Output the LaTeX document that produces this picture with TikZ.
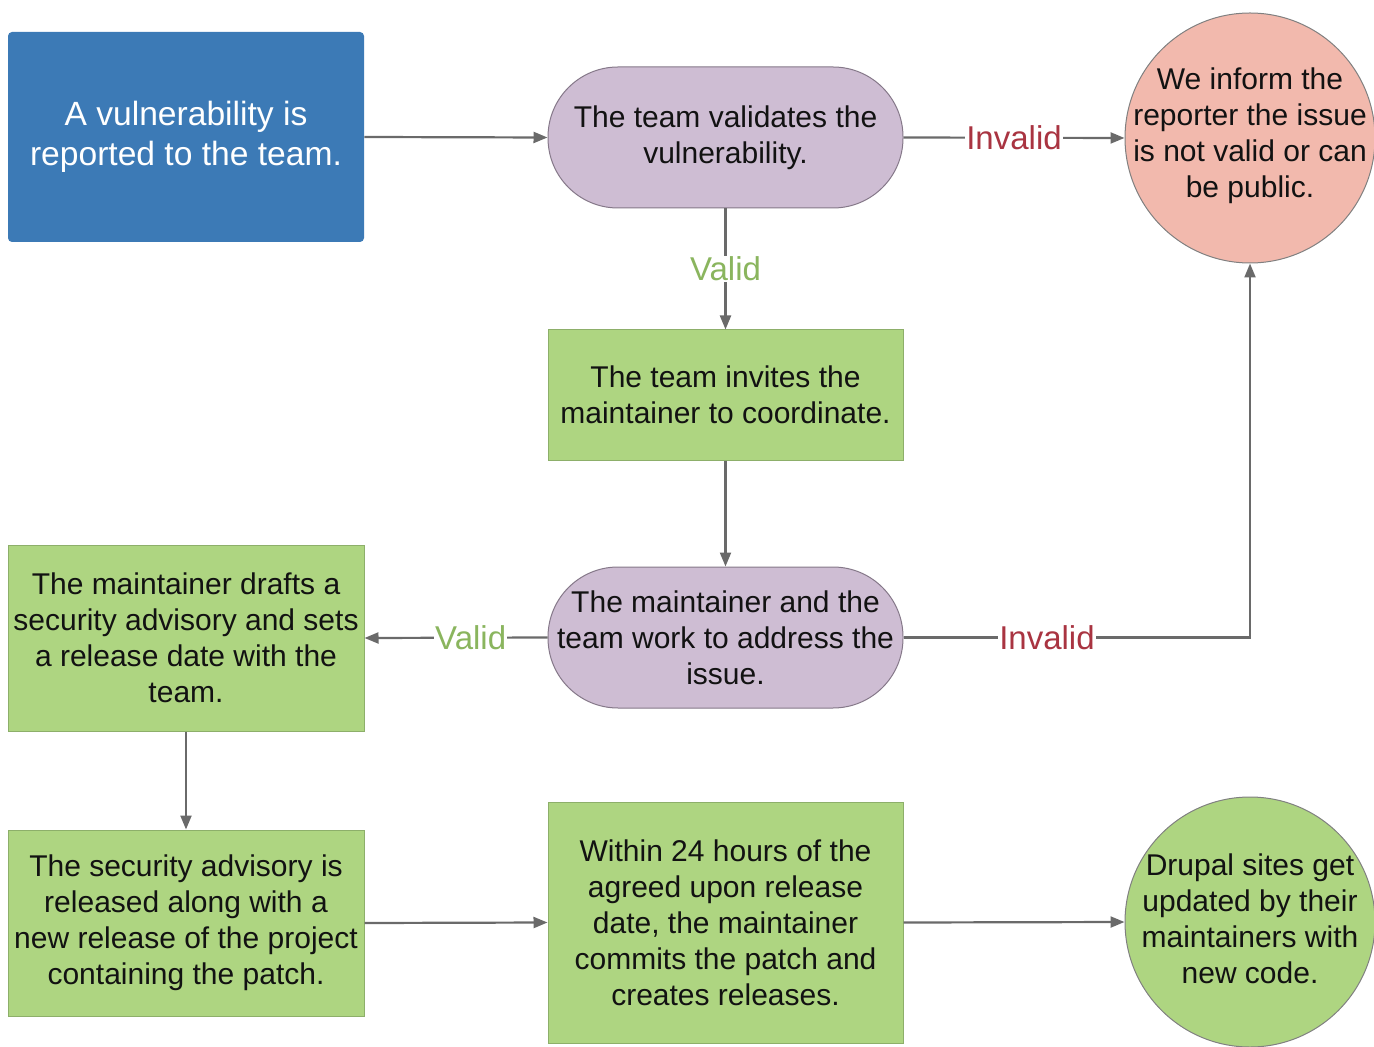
\documentclass[tikz,border=0pt]{standalone}
\usepackage{fontspec}
\setmainfont{Liberation Sans}
\usetikzlibrary{arrows.meta,positioning}
\definecolor{cblue}{HTML}{3C7AB6}
\definecolor{cpurple}{HTML}{CEBDD3}
\definecolor{cpurpleb}{HTML}{857889}
\definecolor{cred}{HTML}{F2B9AD}
\definecolor{cgreen}{HTML}{AED581}
\definecolor{cgreenb}{HTML}{8DAF6A}
\definecolor{cline}{HTML}{6A6A6A}
\definecolor{cinv}{HTML}{A93441}
\definecolor{cval}{HTML}{8AB55E}
\begin{document}
\begin{tikzpicture}[x=0.5pt,y=-0.5pt,
  txt/.style={font=\fontsize{15}{18}\selectfont, align=center, text=black!93},
  bluebox/.style={txt, fill=cblue, text=white, rounded corners=2pt, minimum width=178pt, minimum height=105pt, inner sep=0pt, font=\fontsize{16.8}{20}\selectfont},
  stadium/.style={txt, fill=cpurple, draw=cpurpleb, line width=0.5pt, rounded corners=35pt, minimum width=177.5pt, minimum height=70.5pt, inner sep=0pt},
  greenbox/.style={txt, fill=cgreen, draw=cgreenb, line width=0.5pt, minimum width=177.5pt, inner sep=0pt},
  circ/.style={circle, draw=black!50, line width=0.5pt, minimum size=125pt, inner sep=0pt},
  conn/.style={draw=cline, line width=1.1pt, -{Triangle[length=7pt,width=5.5pt]}},
  lblinv/.style={font=\fontsize{16.5}{19}\selectfont, text=cinv, fill=white, inner sep=0.5pt},
  lblval/.style={font=\fontsize{16.5}{19}\selectfont, text=cval, fill=white, inner sep=0.5pt}
]
\useasboundingbox (0,0) rectangle (1374,1047);
\node[bluebox] (rep) at (186,137) {A vulnerability is\\reported to the team.};
\node[stadium] (val) at (725.5,137.5) {The team validates the\\vulnerability.};
\node[circ, fill=cred] (inv) at (1250,138) {};
\node[txt] (invt) at (1250,136) {We inform the\\reporter the issue\\is not valid or can\\be public.};
\node[greenbox, minimum height=65pt] (invite) at (725.5,395) {The team invites the\\maintainer to coordinate.};
\node[stadium] (work) at (725.5,637.5) {The maintainer and the\\team work to address the\\issue.};
\node[greenbox, minimum width=178pt, minimum height=93pt] (draft) at (186,638) {The maintainer drafts a\\security advisory and sets\\a release date with the\\team.};
\node[greenbox, minimum width=178pt, minimum height=93pt] (release) at (186,923) {The security advisory is\\released along with a\\new release of the project\\containing the patch.};
\node[greenbox, minimum height=120.5pt] (commit) at (725.5,922.5) {Within 24 hours of the\\agreed upon release\\date, the maintainer\\commits the patch and\\creates releases.};
\node[circ, fill=cgreen] (drupal) at (1250,922) {};
\node[txt] (drupalt) at (1250,919) {Drupal sites get\\updated by their\\maintainers with\\new code.};

\draw[conn] (rep.east) -- (val.west);
\draw[conn] (val.east) -- node[lblinv] (l1) {Invalid} (inv.west);
\draw[conn] (val.south) -- node[lblval] (l2) {Valid} (invite.north);
\draw[conn] (invite.south) -- (work.north);
\draw[conn] (work.west) -- node[lblval, pos=0.42] (l3) {Valid} (draft.east);
\draw[conn] (work.east) -| node[lblinv, pos=0.207] (l4) {Invalid} (inv.south);
\draw[conn] (draft.south) -- (release.north);
\draw[conn] (release.east) -- (commit.west);
\draw[conn] (commit.east) -- (drupal.west);
\end{tikzpicture}
\end{document}
